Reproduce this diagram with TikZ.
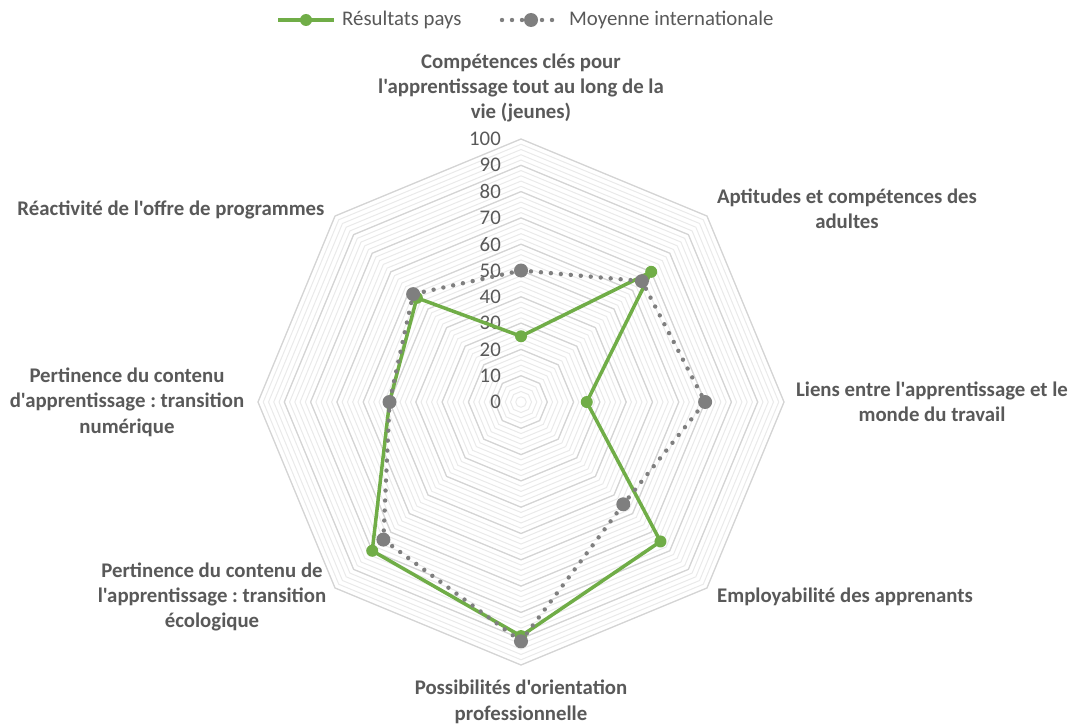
\documentclass[tikz,border=0pt]{standalone}
\usepackage{fontspec}
\setmainfont{Carlito}[Ligatures=TeXOff]
\frenchspacing
\definecolor{paysgreen}{HTML}{70AD47}
\definecolor{moygray}{HTML}{7F7F7F}
\definecolor{labgray}{HTML}{595959}
\definecolor{majgrid}{HTML}{D4D4D4}
\definecolor{mingrid}{HTML}{EAEAEA}
\tikzset{
  axislabel/.style={font=\fontsize{20.8}{25.4}\selectfont\bfseries, text=labgray, align=center, inner sep=0},
  ticklabel/.style={font=\fontsize{20.8}{25}\selectfont, text=labgray, anchor=east, inner sep=0},
  legendtext/.style={font=\fontsize{20.8}{25}\selectfont, text=labgray, anchor=west, inner sep=0},
  paysdot/.style={circle, fill=paysgreen, inner sep=0, minimum size=12},
  moydot/.style={circle, fill=moygray, inner sep=0, minimum size=14},
  paysline/.style={paysgreen, line width=3.5, line join=round},
  moyline/.style={moygray, line width=4.4, line cap=round, dash pattern=on 0pt off 10pt},
  majring/.style={majgrid, line width=1.2},
  minring/.style={mingrid, line width=1},
}
\begin{document}
\begin{tikzpicture}[x=1pt,y=-1pt]
  \fill[white] (0,0) rectangle (1073,725);
  \useasboundingbox (0,0) rectangle (1073,725);

  % grid
  \begin{scope}[shift={(521,402)}]
    \foreach \v in {2,4,...,100}
      \draw[minring] (-90:2.63*\v) \foreach \k in {1,...,7}{ -- (-90+45*\k:2.63*\v)} -- cycle;
    \foreach \v in {10,20,...,100}
      \draw[majring] (-90:2.63*\v) \foreach \k in {1,...,7}{ -- (-90+45*\k:2.63*\v)} -- cycle;

    % data points
    \foreach \v [count=\k from 0] in {25,70,25,75,89,80,50,56}
      \coordinate (p\k) at (-90+45*\k:2.63*\v);
    \foreach \v [count=\k from 0] in {50,65,70,55,91,74,50,58}
      \coordinate (m\k) at (-90+45*\k:2.63*\v);
  \end{scope}

  % tick labels
  \foreach \v in {0,10,...,100}
    \node[ticklabel] (t\v) at (501,402-2.63*\v) {\v};

  % axis labels
  \node[axislabel] (ax0) at (521,88) {Compétences clés pour\\l'apprentissage tout au long de la\\vie (jeunes)};
  \node[axislabel] (ax1) at (847,208.5) {Aptitudes et compétences des\\adultes};
  \node[axislabel] (ax2) at (932,401.5) {Liens entre l'apprentissage et le\\monde du travail};
  \node[axislabel] (ax3) at (845,597) {Employabilité des apprenants};
  \node[axislabel] (ax4) at (521,702) {Possibilités d'orientation\\professionnelle};
  \node[axislabel] (ax5) at (212,597) {Pertinence du contenu de\\l'apprentissage : transition\\écologique};
  \node[axislabel] (ax6) at (127,402) {Pertinence du contenu\\d'apprentissage : transition\\numérique};
  \node[axislabel] (ax7) at (171,210) {Réactivité de l'offre de programmes};

  % series
  \draw[paysline] (p0) -- (p1) -- (p2) -- (p3) -- (p4) -- (p5) -- (p6) -- (p7) -- cycle;
  \foreach \k in {0,...,7}
    \node[paysdot] (pd\k) at (p\k) {};
  \draw[moyline] (m0) -- (m1) -- (m2) -- (m3) -- (m4) -- (m5) -- (m6) -- (m7) -- cycle;
  \foreach \k in {0,...,7}
    \node[moydot] (md\k) at (m\k) {};

  % legend
  \coordinate (lpa) at (278,20);
  \coordinate (lpb) at (334,20);
  \draw[paysline] (lpa) -- (lpb);
  \node[paysdot] (lpd) at (306,20) {};
  \node[legendtext] (lpt) at (342,20) {Résultats pays};
  \coordinate (lma) at (502,20);
  \coordinate (lmb) at (560,20);
  \draw[moyline] (lma) -- (lmb);
  \node[moydot] (lmd) at (531,20) {};
  \node[legendtext] (lmt) at (569,20) {Moyenne internationale};
\end{tikzpicture}
\end{document}
